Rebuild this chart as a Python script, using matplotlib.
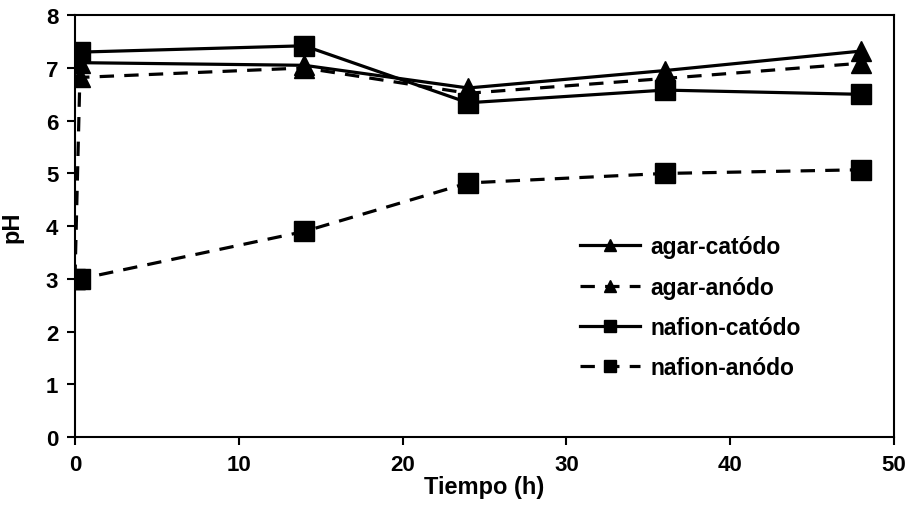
import matplotlib
matplotlib.use("Agg")
import matplotlib.pyplot as plt

plt.rcParams['font.family'] = ['Liberation Sans', 'DejaVu Sans']
plt.rcParams['font.weight'] = 'bold'

# Sampling times (h)
t_agar_cat = [0, 0.3, 14, 24, 36, 48]
t_agar_an = [0, 0.3, 14, 24, 36, 48]
t_naf_cat = [0, 0.3, 14, 24, 36, 48]
t_naf_an = [0, 0.3, 14, 24, 36, 48]

# pH readings
ph_agar_cat = [7.2, 7.1, 7.05, 6.62, 6.95, 7.32]
ph_agar_an = [3.0, 6.82, 7.0, 6.52, 6.8, 7.09]
ph_naf_cat = [7.2, 7.3, 7.42, 6.34, 6.58, 6.5]
ph_naf_an = [3.0, 3.0, 3.9, 4.82, 5.0, 5.07]

labels = ['agar-catódo', 'agar-anódo', 'nafion-catódo', 'nafion-anódo']
x_ticks = [0, 10, 20, 30, 40, 50]
y_ticks = [0, 1, 2, 3, 4, 5, 6, 7, 8]

fig = plt.figure(figsize=(9.12, 5.06), dpi=100)
ax = fig.add_axes([0.0822, 0.134, 0.898, 0.834])

lw = 2.3
dash = (0, (4.5, 3.2))
ms = 15

ax.plot(t_agar_cat, ph_agar_cat, color='black', lw=lw, linestyle='-',
        marker='^', ms=ms, label=labels[0])
ax.plot(t_agar_an, ph_agar_an, color='black', lw=lw, linestyle=dash,
        marker='^', ms=ms, label=labels[1])
ax.plot(t_naf_cat, ph_naf_cat, color='black', lw=lw, linestyle='-',
        marker='s', ms=ms, label=labels[2])
ax.plot(t_naf_an, ph_naf_an, color='black', lw=lw, linestyle=dash,
        marker='s', ms=ms, label=labels[3])

ax.set_xlim(0, 50)
ax.set_ylim(0, 8)
ax.set_xticks(x_ticks)
ax.set_yticks(y_ticks)
ax.tick_params(axis='both', direction='out', length=6, width=1.5,
               labelsize=16, pad=6)
for lab in ax.get_xticklabels() + ax.get_yticklabels():
    lab.set_fontweight('bold')
for sp in ax.spines.values():
    sp.set_linewidth(1.5)

ax.set_xlabel('Tiempo (h)', fontsize=17, fontweight='bold', labelpad=0)
ax.set_ylabel('pH', fontsize=17, fontweight='bold', labelpad=16)

leg = ax.legend(loc='upper left', bbox_to_anchor=(0.617, 0.478),
                frameon=False, borderpad=0, borderaxespad=0,
                fontsize=16.5, handlelength=2.6, markerscale=0.6,
                labelspacing=0.75, handletextpad=0.45)
for txt in leg.get_texts():
    txt.set_fontweight('bold')

fig.savefig('out.png', dpi=100)
